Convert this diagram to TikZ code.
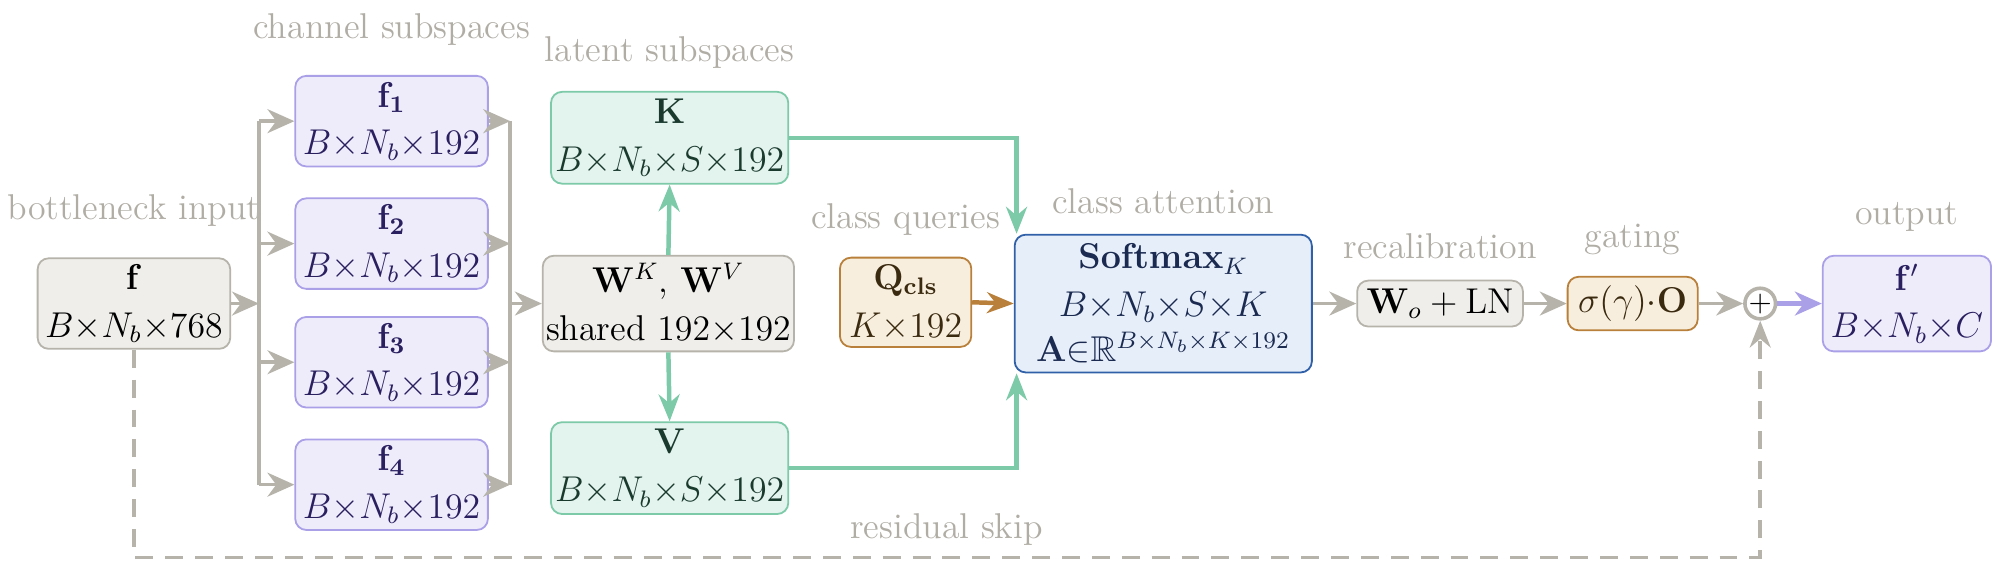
\documentclass[tikz,border=0pt]{standalone}
\usepackage{amsmath,amssymb}
\usetikzlibrary{arrows.meta}
\definecolor{lbl}{HTML}{B0ADA5}
\definecolor{gfill}{HTML}{EFEEEA}\definecolor{gdraw}{HTML}{B5B3AA}
\definecolor{pfill}{HTML}{EEECFB}\definecolor{pdraw}{HTML}{AAA0E8}\definecolor{ptext}{HTML}{2A2060}
\definecolor{tfill}{HTML}{E3F3EE}\definecolor{tdraw}{HTML}{7CCAA8}\definecolor{ttext}{HTML}{1A3A2E}
\definecolor{ofill}{HTML}{F8EEDD}\definecolor{odraw}{HTML}{B8803A}\definecolor{otext}{HTML}{3A2A10}
\definecolor{bfill}{HTML}{E6EEF9}\definecolor{bdraw}{HTML}{3060A8}\definecolor{btext}{HTML}{1A2A50}
\begin{document}
\begin{tikzpicture}[x=0.015cm,y=-0.015cm,font=\large,
  box/.style={rectangle,rounded corners=0.13cm,align=center,inner sep=1pt,line width=0.6pt},
  gbox/.style={box,fill=gfill,draw=gdraw,text=black},
  pbox/.style={box,fill=pfill,draw=pdraw,text=ptext},
  tbox/.style={box,fill=tfill,draw=tdraw,text=ttext},
  obox/.style={box,fill=ofill,draw=odraw,text=otext},
  bbox/.style={box,fill=bfill,draw=bdraw,text=btext},
  lab/.style={text=lbl},
  ga/.style={draw=gdraw,line width=1.2pt,-{Stealth[length=9pt,width=8pt]}},
  gl/.style={draw=gdraw,line width=1.2pt},
  ta/.style={draw=tdraw,line width=1.5pt,-{Stealth[length=9pt,width=7pt]}},
  oa/.style={draw=odraw,line width=1.5pt,-{Stealth[length=9pt,width=7pt]}},
  pa/.style={draw=pdraw,line width=1.5pt,-{Stealth[length=9pt,width=8pt]}},
  da/.style={draw=gdraw,line width=1.2pt,dashed,dash pattern=on 6pt off 4pt,-{Stealth[length=9pt,width=7pt]}}]
\useasboundingbox (0,0) rectangle (1568,445);
\tikzset{sz/.style 2 args={minimum width=#1*0.015cm,minimum height=#2*0.015cm}}
% nodes
\node[gbox,sz={151}{71}] (f) at (105,238) {$\mathbf{f}$\\[2pt]$B{\times}N_b{\times}768$};
\node[pbox,sz={151}{71}] (f1) at (307,95) {$\mathbf{f_1}$\\[2pt]$B{\times}N_b{\times}192$};
\node[pbox,sz={151}{71}] (f2) at (307,191) {$\mathbf{f_2}$\\[2pt]$B{\times}N_b{\times}192$};
\node[pbox,sz={151}{71}] (f3) at (307,284) {$\mathbf{f_3}$\\[2pt]$B{\times}N_b{\times}192$};
\node[pbox,sz={151}{71}] (f4) at (307,380) {$\mathbf{f_4}$\\[2pt]$B{\times}N_b{\times}192$};
\node[gbox,sz={197}{75}] (W) at (524,238) {$\mathbf{W}^K$, $\mathbf{W}^V$\\[2pt]shared $192{\times}192$};
\node[tbox,sz={186}{72}] (K) at (525,108) {$\mathbf{K}$\\[2pt]$B{\times}N_b{\times}S{\times}192$};
\node[tbox,sz={186}{72}] (V) at (525,367) {$\mathbf{V}$\\[2pt]$B{\times}N_b{\times}S{\times}192$};
\node[obox,sz={103}{70}] (Q) at (710,237) {$\mathbf{Q}_{\mathbf{cls}}$\\[2pt]$K{\times}192$};
\node[bbox,sz={233}{108}] (A) at (912,238) {$\mathbf{Softmax}_K$\\[2pt]$B{\times}N_b{\times}S{\times}K$\\[1pt]$\mathbf{A}{\in}\mathbb{R}^{B\times N_b\times K\times 192}$};
\node[gbox,sz={130}{36}] (Wo) at (1129,238) {$\mathbf{W}_o+\mathrm{LN}$};
\node[obox,sz={102}{42}] (G) at (1280,238) {$\sigma(\gamma){\cdot}\mathbf{O}$};
\node[circle,draw=gdraw,line width=1.2pt,minimum size=24*0.015cm,inner sep=0pt,font=\normalsize] (P) at (1380,238) {$+$};
\node[pbox,sz={132}{75}] (O) at (1495,238) {$\mathbf{f}'$\\[2pt]$B{\times}N_b{\times}C$};
% labels
\node[lab] (l1) at (307,23) {channel subspaces};
\node[lab] (l2) at (525,41) {latent subspaces};
\node[lab] (l3) at (105,165) {bottleneck input};
\node[lab] (l4) at (710,172) {class queries};
\node[lab] (l5) at (912,158) {class attention};
\node[lab] (l6) at (1129,193) {recalibration};
\node[lab] (l7) at (1280,188) {gating};
\node[lab] (l8) at (1495,170) {output};
\node[lab] (l9) at (742,415) {residual skip};
% buses
\coordinate (bl) at (203,238);
\coordinate (bl1) at (203,95);\coordinate (bl2) at (203,191);\coordinate (bl3) at (203,284);\coordinate (bl4) at (203,380);
\coordinate (br) at (400,238);
\coordinate (br1) at (400,95);\coordinate (br2) at (400,191);\coordinate (br3) at (400,284);\coordinate (br4) at (400,380);
\draw[ga] (f.east) -- (bl);
\draw[gl] (bl1) -- (bl4);
\foreach \i in {1,2,3,4}{\draw[ga] (bl\i) -- (f\i.west); \draw[ga] (f\i.east) -- (br\i);}
\draw[gl] (br1) -- (br4);
\draw[ga] (br) -- (W.west);
\draw[ta] (W.north) -- (K.south);
\draw[ta] (W.south) -- (V.north);
\coordinate (kt) at (797,108);\coordinate (vb) at (797,367);
\draw[ta] (K.east) -- (kt) -- (kt |- A.north);
\draw[ta] (V.east) -- (vb) -- (vb |- A.south);
\draw[oa] (Q.east) -- (A.west);
\draw[ga] (A.east) -- (Wo.west);
\draw[ga] (Wo.east) -- (G.west);
\draw[ga] (G.east) -- (P.west);
\draw[pa] (P.east) -- (O.west);
\coordinate (d1) at (105,437);\coordinate (d2) at (1380,437);
\draw[da] (f.south) -- (d1) -- (d2) -- (P.south);
\end{tikzpicture}
\end{document}
